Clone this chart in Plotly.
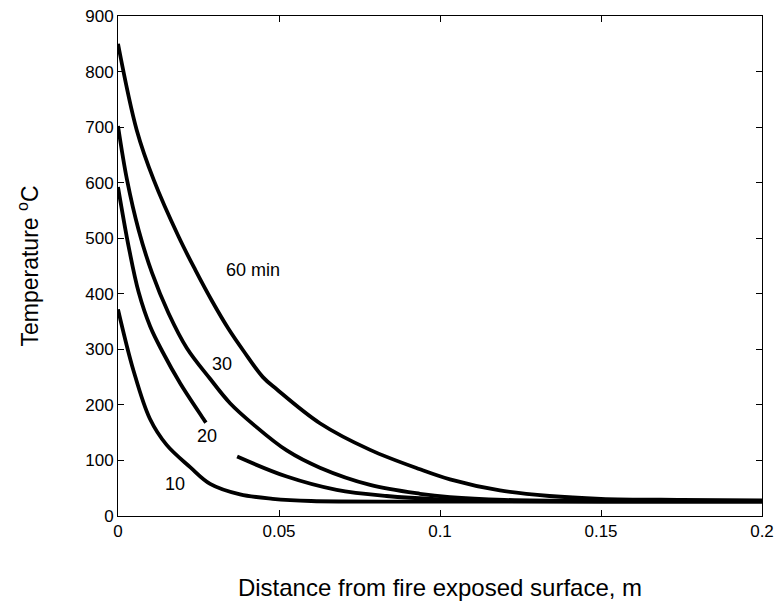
import plotly.graph_objects as go

# distance (m) and temperature (°C)
x60 = [0, 0.0058, 0.0111, 0.0188, 0.024, 0.0292, 0.0343, 0.039, 0.045, 0.0493, 0.0627, 0.0783, 0.0938, 0.1031, 0.1186, 0.134, 0.15, 0.175, 0.2]
t60 = [850, 695, 605, 503, 443, 387, 337, 297, 250, 228, 167, 119, 84, 66, 46, 36, 31, 29, 28]

x30 = [0, 0.0028, 0.0064, 0.0106, 0.0157, 0.0214, 0.0286, 0.0348, 0.042, 0.0524, 0.0627, 0.0783, 0.0938, 0.1031, 0.12, 0.15, 0.2]
t30 = [702, 605, 515, 437, 365, 302, 247, 203, 165, 118, 87, 56, 40, 34, 29, 27, 27]

x20 = [0, 0.0033, 0.0064, 0.01, 0.0137, 0.0193, 0.0265, 0.0273, None, 0.037, 0.0524, 0.0679, 0.0834, 0.1, 0.12, 0.15, 0.2]
t20 = [592, 485, 403, 341, 297, 239, 175, 168, None, 107, 71, 47, 36, 30, 27, 26, 26]

x10 = [0, 0.0048, 0.0099, 0.0151, 0.0224, 0.0286, 0.0379, 0.048, 0.06, 0.1, 0.15, 0.2]
t10 = [372, 262, 175, 128, 88, 58, 39, 31, 27, 26, 26, 26]

labels = ["60 min", "30", "20", "10"]
label_x = [0.042, 0.0323, 0.0276, 0.0177]
label_t = [443, 274, 144, 58]

x_ticks = [0, 0.05, 0.1, 0.15, 0.2]
x_ticktext = ["0", "0.05", "0.1", "0.15", "0.2"]
y_ticks = [0, 100, 200, 300, 400, 500, 600, 700, 800, 900]

FONT = "Liberation Sans, Arial"

fig = go.Figure()
for xs, ts, name in [(x60, t60, "60 min"), (x30, t30, "30 min"), (x20, t20, "20 min"), (x10, t10, "10 min")]:
    fig.add_trace(go.Scatter(x=xs, y=ts, mode="lines", name=name,
                             line=dict(color="black", width=3.8, shape="spline", smoothing=1.0),
                             connectgaps=False, showlegend=False))

for lab, lx, lt in zip(labels, label_x, label_t):
    fig.add_annotation(x=lx, y=lt, text=lab, showarrow=False,
                       font=dict(family=FONT, size=18, color="black"))

axis_common = dict(showline=True, linecolor="black", linewidth=1, mirror="ticks",
                   ticks="inside", ticklen=6, tickcolor="black", showgrid=False, zeroline=False,
                   automargin=False,
                   tickfont=dict(family=FONT, size=17, color="black"))

fig.update_xaxes(range=[0, 0.2], tickvals=x_ticks, ticktext=x_ticktext,
                 title=dict(text="Distance from fire exposed surface, m", standoff=38,
                            font=dict(family=FONT, size=24, color="black")),
                 **axis_common)
fig.update_yaxes(range=[0, 900], tickvals=y_ticks,
                 title=dict(text="Temperature <sup>o</sup>C", standoff=40,
                            font=dict(family=FONT, size=23, color="black")),
                 **axis_common)

fig.update_layout(width=779, height=604, margin=dict(l=118, r=17, t=16, b=88),
                  plot_bgcolor="white", paper_bgcolor="white")

fig.write_html("out.html")
